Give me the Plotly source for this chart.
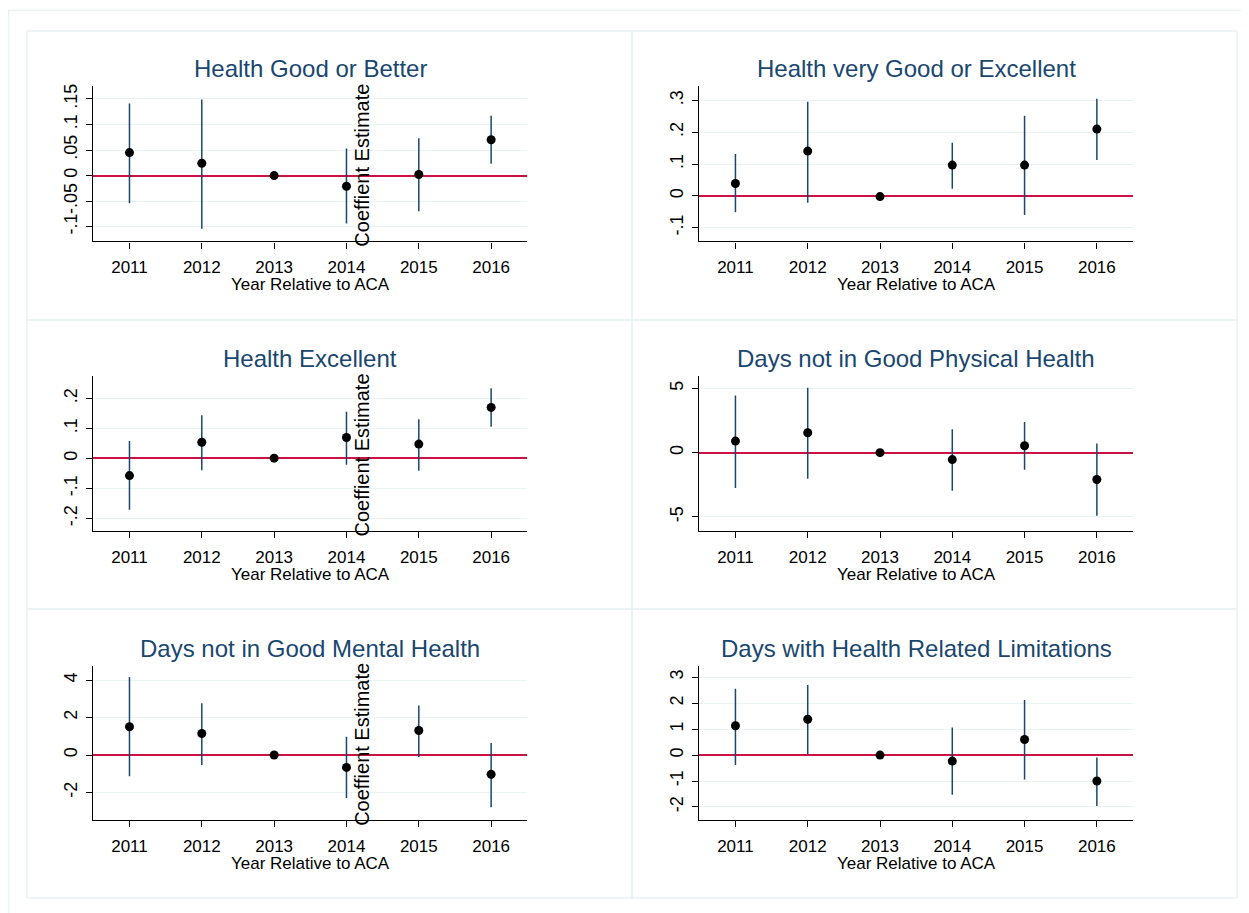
import plotly.graph_objects as go

OFF = 8  # page body margin offset
W, H = 1249 - OFF, 913 - OFF

years = [2011, 2012, 2013, 2014, 2015, 2016]
year_labels = ["2011", "2012", "2013", "2014", "2015", "2016"]

titles = [
    "Health Good or Better",
    "Health very Good or Excellent",
    "Health Excellent",
    "Days not in Good Physical Health",
    "Days not in Good Mental Health",
    "Days with Health Related Limitations",
]

# point estimates, upper and lower CI bounds per panel
est_good = [0.045, 0.024, 0.0, -0.021, 0.002, 0.070]
hi_good = [0.141, 0.149, 0.0, 0.053, 0.073, 0.117]
lo_good = [-0.054, -0.104, 0.0, -0.094, -0.070, 0.023]

est_vgood = [0.039, 0.141, -0.002, 0.097, 0.097, 0.210]
hi_vgood = [0.132, 0.296, -0.002, 0.167, 0.252, 0.305]
lo_vgood = [-0.051, -0.021, -0.002, 0.023, -0.060, 0.113]

est_exc = [-0.057, 0.054, 0.001, 0.070, 0.048, 0.170]
hi_exc = [0.058, 0.144, 0.001, 0.156, 0.131, 0.234]
lo_exc = [-0.171, -0.039, 0.001, -0.021, -0.041, 0.106]

est_phys = [0.90, 1.55, 0.0, -0.54, 0.54, -2.09]
hi_phys = [4.44, 5.04, 0.0, 1.81, 2.38, 0.72]
lo_phys = [-2.74, -2.02, 0.0, -2.97, -1.32, -4.91]

est_ment = [1.51, 1.15, 0.0, -0.66, 1.31, -1.03]
hi_ment = [4.16, 2.77, 0.0, 0.98, 2.65, 0.64]
lo_ment = [-1.14, -0.53, 0.0, -2.29, -0.11, -2.79]

est_lim = [1.13, 1.38, 0.0, -0.23, 0.60, -1.00]
hi_lim = [2.56, 2.70, 0.0, 1.06, 2.12, -0.09]
lo_lim = [-0.38, 0.03, 0.0, -1.53, -0.94, -1.96]

ytick_vals = [
    [-0.1, -0.05, 0, 0.05, 0.1, 0.15],
    [-0.1, 0, 0.1, 0.2, 0.3],
    [-0.2, -0.1, 0, 0.1, 0.2],
    [-5, 0, 5],
    [-2, 0, 2, 4],
    [-2, -1, 0, 1, 2, 3],
]
ytick_text = [
    ["-.1", "-.05", "0", ".05", ".1", ".15"],
    ["-.1", "0", ".1", ".2", ".3"],
    ["-.2", "-.1", "0", ".1", ".2"],
    ["-5", "0", "5"],
    ["-2", "0", "2", "4"],
    ["-2", "-1", "0", "1", "2", "3"],
]
y_ranges = [
    [-0.129, 0.175],
    [-0.143, 0.345],
    [-0.242, 0.273],
    [-6.10, 5.92],
    [-3.48, 4.76],
    [-2.51, 3.44],
]

panels = [
    (est_good, hi_good, lo_good),
    (est_vgood, hi_vgood, lo_vgood),
    (est_exc, hi_exc, lo_exc),
    (est_phys, hi_phys, lo_phys),
    (est_ment, hi_ment, lo_ment),
    (est_lim, hi_lim, lo_lim),
]

FONT = "Liberation Sans, Arial, sans-serif"
NAVY = "#1a476f"
GRID = "#eaf2f3"
RED = "#cc1144"

# layout geometry in screen pixels
col_x = [(93.3, 527.3), (699.3, 1133.0)]
row_y = [(84.3, 240.0), (375.3, 530.3), (665.3, 820.0)]
row_off = [0, 290.5, 580.5]


def px(x):
    return (x - OFF) / W


def py(y):
    return 1 - (y - OFF) / H


fig = go.Figure()
layout = dict(
    width=W, height=H,
    margin=dict(l=0, r=0, t=0, b=0),
    paper_bgcolor="white", plot_bgcolor="white",
    showlegend=False,
    font=dict(family=FONT, size=17, color="black"),
)
annotations = []
shapes = []

for i, (est, hi, lo) in enumerate(panels):
    r, c = divmod(i, 2)
    n = i + 1
    xa = "x" if n == 1 else f"x{n}"
    ya = "y" if n == 1 else f"y{n}"
    plus = [h - e for h, e in zip(hi, est)]
    minus = [e - l for e, l in zip(est, lo)]
    fig.add_trace(go.Scatter(
        x=years, y=est, mode="markers", xaxis=xa, yaxis=ya,
        marker=dict(color="black", size=9),
        error_y=dict(type="data", array=plus, arrayminus=minus, symmetric=False,
                     color=NAVY, thickness=1.5, width=0),
        cliponaxis=False,
    ))
    x0, x1 = col_x[c]
    y0, y1 = row_y[r]
    layout["xaxis" if n == 1 else f"xaxis{n}"] = dict(
        domain=[px(x0), px(x1)], anchor=ya, range=[2010.5, 2016.5],
        tickvals=years, ticktext=year_labels, showgrid=False, zeroline=False,
        showline=True, linecolor="black", linewidth=1.3,
        ticks="outside", ticklen=6, tickwidth=1.3, tickcolor="black",
        tickfont=dict(size=17, family=FONT, color="black"),
        ticklabelstandoff=4,
    )
    layout["yaxis" if n == 1 else f"yaxis{n}"] = dict(
        domain=[py(y1), py(y0)], anchor=xa, range=y_ranges[i],
        tickvals=ytick_vals[i], ticktext=ytick_text[i], tickangle=-90,
        showgrid=True, gridcolor=GRID, gridwidth=1.3,
        zeroline=True, zerolinecolor=RED, zerolinewidth=1.5,
        showline=True, linecolor="black", linewidth=1.3,
        ticks="outside", ticklen=6, tickwidth=1.3, tickcolor="black",
        tickfont=dict(size=18, family=FONT, color="black"),
        ticklabelstandoff=2,
    )
    # title
    annotations.append(dict(
        text=titles[i], x=px((x0 + x1) / 2), y=py(67 + row_off[r]),
        xref="paper", yref="paper", xanchor="center", yanchor="middle",
        showarrow=False, font=dict(size=24, family=FONT, color=NAVY),
    ))
    # x axis title
    annotations.append(dict(
        text="Year Relative to ACA", x=px((x0 + x1) / 2), y=py(283 + row_off[r]),
        xref="paper", yref="paper", xanchor="center", yanchor="middle",
        showarrow=False, font=dict(size=17, family=FONT, color="black"),
    ))
    if c == 0:
        annotations.append(dict(
            text="Coeffient Estimate", x=px(361.7), y=py(163.3 + row_off[r]),
            xref="paper", yref="paper", xanchor="center", yanchor="middle",
            textangle=-90, showarrow=False,
            font=dict(size=20, family=FONT, color="black"),
        ))

# outer frame and cell frames
shapes.append(dict(type="rect", xref="paper", yref="paper",
                   x0=px(8.5), x1=px(1270), y0=py(930), y1=py(8.5),
                   line=dict(color=GRID, width=1.5), layer="below"))
cell_x = [(27, 632), (632, 1237)]
cell_y = [(29, 318.7), (318.7, 608.3), (608.3, 898)]
for (cx0, cx1) in cell_x:
    for (cy0, cy1) in cell_y:
        shapes.append(dict(type="rect", xref="paper", yref="paper",
                           x0=px(cx0), x1=px(cx1), y0=py(cy1), y1=py(cy0),
                           line=dict(color=GRID, width=1.5), layer="below"))

layout["annotations"] = annotations
layout["shapes"] = shapes
fig.update_layout(**layout)
fig.write_html("out.html")
